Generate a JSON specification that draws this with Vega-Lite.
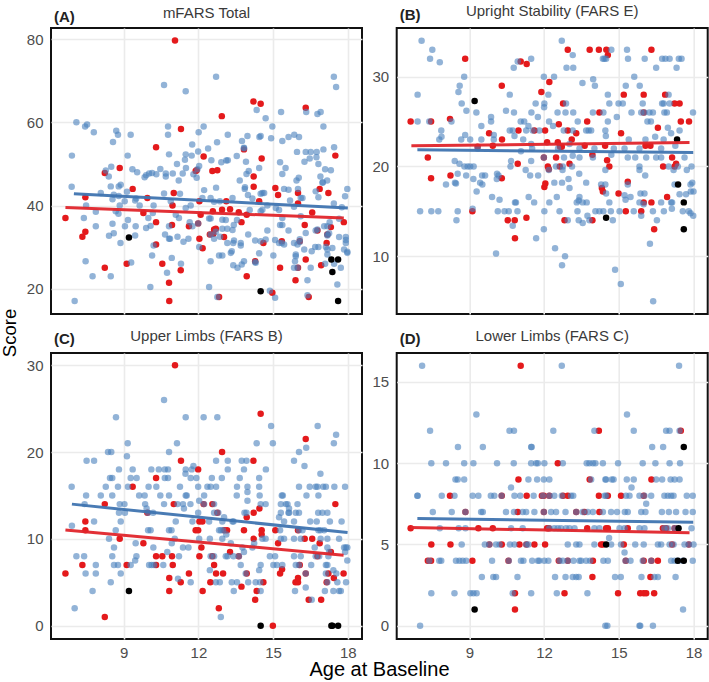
{"$schema":"https://vega.github.io/schema/vega-lite/v6.json","background":"white","autosize":"pad","padding":{"left":-1,"top":3,"right":0,"bottom":0},"bounds":"flush","columns":2,"spacing":{"column":34.7,"row":39},
"config":{"font":"Liberation Sans","view":{"stroke":"#111111","strokeWidth":2},"axis":{"grid":true,"gridColor":"#ebebeb","gridWidth":1.6,"domain":false,"ticks":false,"labelColor":"#4d4d4d","labelFontSize":15,"labelPadding":8,"titleColor":"#000000","titleFontSize":20,"titleFontWeight":"normal"},"title":{"fontSize":15,"fontWeight":"normal","color":"#3a3a3a","anchor":"middle"}},
"datasets":{
"Ar":[{"a":6.66,"s":37},{"a":7.46,"s":42},{"a":7.46,"s":33.7},{"a":7.34,"s":32.5},{"a":8.24,"s":25},{"a":8.24,"s":47.8},{"a":8.84,"s":49},{"a":9.36,"s":44},{"a":9.12,"s":26},{"a":9.79,"s":38.2},{"a":9.95,"s":41.8},{"a":10.3,"s":54},{"a":10.3,"s":36},{"a":10.3,"s":30.6},{"a":10.55,"s":26},{"a":10.82,"s":21.4},{"a":10.83,"s":17},{"a":10.96,"s":40},{"a":10.94,"s":35.3},{"a":11.01,"s":43},{"a":11.06,"s":79.7},{"a":11.3,"s":58.4},{"a":11.29,"s":24.4},{"a":11.62,"s":35},{"a":11.99,"s":35.7},{"a":11.93,"s":48.5},{"a":11.89,"s":48.3},{"a":12.21,"s":51.8},{"a":12.04,"s":41},{"a":12.09,"s":37.8},{"a":12.04,"s":32},{"a":12.17,"s":29.7},{"a":12.46,"s":33},{"a":12.6,"s":33.2},{"a":12.7,"s":34.4},{"a":12.63,"s":34.2},{"a":12.56,"s":48.3},{"a":12.76,"s":48.5},{"a":12.58,"s":38.6},{"a":12.94,"s":61.5},{"a":12.95,"s":39},{"a":13.12,"s":41},{"a":13.27,"s":39.1},{"a":13.03,"s":32.4},{"a":12.83,"s":18},{"a":13.62,"s":38.4},{"a":13.73,"s":36},{"a":13.94,"s":37.8},{"a":13.83,"s":53.5},{"a":13.94,"s":23},{"a":14.21,"s":65},{"a":14.5,"s":64.5},{"a":14.54,"s":51.3},{"a":14.22,"s":47},{"a":14.22,"s":44.5},{"a":14.28,"s":26.6},{"a":14.44,"s":41},{"a":14.61,"s":31},{"a":14.97,"s":19},{"a":15.09,"s":44.2},{"a":15.2,"s":42.5},{"a":15.28,"s":25},{"a":15.35,"s":31.4},{"a":16,"s":43},{"a":16,"s":40.5},{"a":15.9,"s":22},{"a":16,"s":25},{"a":16.07,"s":31.4},{"a":16.27,"s":35.3},{"a":16.31,"s":63.5},{"a":16.31,"s":27},{"a":16.57,"s":38.3},{"a":16.43,"s":18},{"a":16.78,"s":34},{"a":16.87,"s":44},{"a":17.22,"s":43},{"a":16.93,"s":25.6},{"a":17.15,"s":31},{"a":17.18,"s":33},{"a":17.32,"s":34.8},{"a":17.5,"s":52},{"a":17.84,"s":36}],
"Ak":[{"a":9.21,"s":32.3},{"a":14.5,"s":19.4},{"a":17.34,"s":27},{"a":17.61,"s":27},{"a":17.38,"s":24},{"a":17.61,"s":17}],
"Al":[{"a":7,"s":42.8,"g":"b"},{"a":18,"s":39.4,"g":"b"},{"a":6.66,"s":39.5,"g":"r"},{"a":17.84,"s":37,"g":"r"}],
"Ab":[{"a":7.03,"s":17},{"a":6.91,"s":44.5},{"a":6.92,"s":52},{"a":7.1,"s":60},{"a":7.45,"s":59},{"a":7.53,"s":59.5},{"a":7.8,"s":57.6},{"a":8.7,"s":58},{"a":8.77,"s":57},{"a":8.57,"s":55.3},{"a":9.28,"s":57},{"a":9.16,"s":52},{"a":8.5,"s":49.3},{"a":8.28,"s":48.4},{"a":8.4,"s":47},{"a":8.48,"s":44.6},{"a":8.88,"s":45},{"a":8.8,"s":44.6},{"a":8.08,"s":43},{"a":8.6,"s":42.6},{"a":8.8,"s":42.3},{"a":8.55,"s":41.5},{"a":9.13,"s":43.3},{"a":9.04,"s":41},{"a":8.84,"s":40},{"a":7.49,"s":40},{"a":7.88,"s":38.5},{"a":7.4,"s":37},{"a":7.88,"s":35},{"a":7.47,"s":26.6},{"a":7.75,"s":23},{"a":8.48,"s":23},{"a":8.55,"s":35.6},{"a":8.6,"s":33.3},{"a":8.41,"s":32.7},{"a":8.68,"s":38.6},{"a":8.79,"s":38},{"a":9.17,"s":36.5},{"a":9.05,"s":35},{"a":9.48,"s":35},{"a":9.46,"s":32.8},{"a":8.87,"s":31},{"a":9.3,"s":26.3},{"a":9.5,"s":41.7},{"a":9.46,"s":41.2},{"a":9.64,"s":40},{"a":9.35,"s":48.7},{"a":9.54,"s":48},{"a":9.84,"s":46.8},{"a":9.9,"s":47.3},{"a":10.02,"s":47.7},{"a":10.14,"s":47.8},{"a":10.31,"s":47.5},{"a":10.47,"s":48.8},{"a":10.69,"s":47.7},{"a":10.69,"s":47},{"a":10.97,"s":47.7},{"a":11.37,"s":47.7},{"a":11.21,"s":46},{"a":10.62,"s":42.9},{"a":10.2,"s":40},{"a":9.99,"s":37},{"a":10.17,"s":38.2},{"a":9.9,"s":34.6},{"a":10.08,"s":35.1},{"a":10.2,"s":30.4},{"a":10.14,"s":28},{"a":10.07,"s":20.4},{"a":10.66,"s":33},{"a":10.86,"s":32},{"a":10.82,"s":32},{"a":11.16,"s":32.5},{"a":11.4,"s":31.3},{"a":11.6,"s":32},{"a":10.93,"s":27.4},{"a":10.74,"s":23.8},{"a":10.82,"s":35},{"a":11.09,"s":37.8},{"a":11.22,"s":37},{"a":10.89,"s":41},{"a":11.26,"s":42.8},{"a":11.49,"s":39.4},{"a":11.69,"s":40},{"a":11.65,"s":36},{"a":11.76,"s":35},{"a":10.62,"s":69},{"a":11.49,"s":67.5},{"a":12.71,"s":71},{"a":10.78,"s":59},{"a":12.21,"s":59},{"a":10.78,"s":57},{"a":12.01,"s":57.6},{"a":11.75,"s":54.7},{"a":10.82,"s":52.3},{"a":11.99,"s":53},{"a":11.49,"s":52.3},{"a":11.46,"s":51},{"a":11.73,"s":52},{"a":11.14,"s":50},{"a":11.5,"s":49},{"a":11.8,"s":47.5},{"a":11.93,"s":46.7},{"a":12.03,"s":49.5},{"a":11.96,"s":48.7},{"a":12.39,"s":53.7},{"a":12.75,"s":55.2},{"a":13.18,"s":57},{"a":12.52,"s":50.9},{"a":12.92,"s":50.4},{"a":13.12,"s":50.8},{"a":13.18,"s":50.9},{"a":12.71,"s":44.3},{"a":12.23,"s":43.7},{"a":12.16,"s":41.8},{"a":12.49,"s":41.8},{"a":12.63,"s":40.9},{"a":12.86,"s":41},{"a":12.43,"s":36.9},{"a":12.49,"s":36.9},{"a":12.96,"s":36.6},{"a":13.1,"s":36.5},{"a":12.96,"s":34.4},{"a":13.16,"s":34.4},{"a":13.37,"s":34.1},{"a":13.42,"s":35.3},{"a":13.55,"s":36.5},{"a":13.37,"s":41.8},{"a":13.66,"s":46},{"a":13.54,"s":51.9},{"a":13.91,"s":50.5},{"a":13.97,"s":56.7},{"a":13.75,"s":55.5},{"a":13.83,"s":53.9},{"a":14.02,"s":48.3},{"a":13.93,"s":47.6},{"a":13.87,"s":44.4},{"a":13.86,"s":44},{"a":13.99,"s":42.5},{"a":14.17,"s":41.7},{"a":14.06,"s":38.9},{"a":14.5,"s":42.8},{"a":14.57,"s":43},{"a":14.64,"s":43},{"a":14.44,"s":49},{"a":14.5,"s":56.7},{"a":14.45,"s":56.5},{"a":14.34,"s":63},{"a":14.7,"s":61},{"a":14.97,"s":59},{"a":14.92,"s":56.2},{"a":15.32,"s":62.5},{"a":15.37,"s":55.5},{"a":15.62,"s":56.5},{"a":15.85,"s":57},{"a":16.04,"s":56.5},{"a":15.28,"s":50.4},{"a":15.5,"s":49},{"a":15.37,"s":47.6},{"a":15.96,"s":52.9},{"a":16.31,"s":52.9},{"a":16.51,"s":52.9},{"a":16.75,"s":52.9},{"a":17.02,"s":53.5},{"a":17.45,"s":54},{"a":16.26,"s":50.5},{"a":16.47,"s":51.3},{"a":16.74,"s":51.6},{"a":16.82,"s":50},{"a":17.09,"s":48.7},{"a":17.32,"s":48.5},{"a":16.9,"s":47},{"a":17.17,"s":46},{"a":16.98,"s":45.5},{"a":17,"s":45.6},{"a":16.33,"s":62.5},{"a":16.78,"s":62},{"a":16.91,"s":62.5},{"a":17.02,"s":59},{"a":17.44,"s":71},{"a":17.53,"s":68.5},{"a":15.94,"s":46},{"a":16.03,"s":46.7},{"a":16,"s":44},{"a":15.44,"s":44},{"a":15.62,"s":43.8},{"a":15.68,"s":41.2},{"a":15.84,"s":39.7},{"a":16.11,"s":41.8},{"a":16.18,"s":41.8},{"a":16.71,"s":43.4},{"a":16.82,"s":42},{"a":17.44,"s":40.5},{"a":17.76,"s":39.6},{"a":17.89,"s":42.2},{"a":17.98,"s":44},{"a":16.11,"s":37.4},{"a":14.77,"s":40},{"a":15.11,"s":39.4},{"a":15.24,"s":38.9},{"a":14.5,"s":38.6},{"a":14.57,"s":39},{"a":15.37,"s":37},{"a":15.28,"s":35.3},{"a":15.37,"s":35.3},{"a":15.62,"s":34},{"a":14.77,"s":34},{"a":14,"s":33},{"a":16.31,"s":33.4},{"a":16.71,"s":34},{"a":17.05,"s":35},{"a":17.18,"s":35},{"a":17.27,"s":36},{"a":17.18,"s":33},{"a":17.25,"s":33.3},{"a":17.65,"s":32.4},{"a":17.92,"s":32.4},{"a":17.92,"s":31.7},{"a":17.92,"s":31},{"a":17.65,"s":36.8},{"a":17.85,"s":29.4},{"a":17.98,"s":28.9},{"a":17.98,"s":28.6},{"a":17.38,"s":29.8},{"a":17.12,"s":30},{"a":17.18,"s":29.4},{"a":17.18,"s":28.2},{"a":17.45,"s":26},{"a":17.72,"s":25},{"a":17.58,"s":21},{"a":17.09,"s":26},{"a":16.82,"s":30},{"a":16.69,"s":30},{"a":16.55,"s":29},{"a":16.25,"s":29.4},{"a":15.84,"s":31},{"a":15.98,"s":30.6},{"a":16.07,"s":31.9},{"a":15.44,"s":30.6},{"a":15.24,"s":31},{"a":15.08,"s":31.7},{"a":14.7,"s":31.8},{"a":14.5,"s":31.4},{"a":14.28,"s":31.6},{"a":14.44,"s":28.5},{"a":15.01,"s":28},{"a":15.91,"s":28.2},{"a":15.91,"s":27.8},{"a":15.88,"s":26.6},{"a":15.84,"s":25},{"a":15.98,"s":25},{"a":16.51,"s":25},{"a":14.3,"s":26.2},{"a":13.83,"s":26.6},{"a":13.74,"s":25.8},{"a":13.57,"s":25},{"a":13.4,"s":25.6},{"a":13.3,"s":28.6},{"a":13.34,"s":29},{"a":12.83,"s":28},{"a":12.96,"s":28},{"a":12.49,"s":26.6},{"a":13.16,"s":31},{"a":13.4,"s":31},{"a":13.43,"s":31.6},{"a":13.7,"s":31},{"a":13.7,"s":30.4},{"a":12.63,"s":32},{"a":12.87,"s":32.5},{"a":12.49,"s":33},{"a":12.7,"s":33.7},{"a":12.03,"s":30},{"a":14.87,"s":19.5},{"a":15.08,"s":17.8},{"a":16.38,"s":22},{"a":16.38,"s":18.4},{"a":12.43,"s":20.4},{"a":12.76,"s":18},{"a":11.3,"s":26},{"a":14.28,"s":26.4},{"a":11.99,"s":35.7},{"a":13.83,"s":53.8},{"a":15.35,"s":31},{"a":16.07,"s":31.2},{"a":16.78,"s":34.2},{"a":17.18,"s":32.8}],
"Br":[{"a":6.64,"s":25},{"a":7.46,"s":25},{"a":7.33,"s":21},{"a":7.46,"s":18.7},{"a":8.22,"s":25.3},{"a":8.24,"s":19},{"a":8.83,"s":32},{"a":9.12,"s":15},{"a":9.33,"s":22.2},{"a":9.79,"s":23.7},{"a":9.94,"s":22.3},{"a":10.31,"s":23},{"a":10.3,"s":29},{"a":10.3,"s":18.7},{"a":10.54,"s":14},{"a":10.82,"s":14},{"a":10.83,"s":12},{"a":10.94,"s":20.3},{"a":10.97,"s":24},{"a":11.06,"s":31.7},{"a":11.3,"s":31.4},{"a":11.29,"s":14.3},{"a":11.61,"s":24},{"a":12.04,"s":24},{"a":11.89,"s":28.3},{"a":12.21,"s":29.4},{"a":11.99,"s":21},{"a":12.12,"s":22.7},{"a":12.15,"s":20},{"a":12.19,"s":19.7},{"a":12.01,"s":17.7},{"a":12.05,"s":18.1},{"a":12.48,"s":21},{"a":12.55,"s":22.7},{"a":12.64,"s":22.2},{"a":12.71,"s":22.2},{"a":12.59,"s":24.7},{"a":12.63,"s":20},{"a":12.76,"s":27},{"a":12.82,"s":14},{"a":12.95,"s":33},{"a":12.95,"s":24},{"a":13.02,"s":20.3},{"a":13.11,"s":23},{"a":13.29,"s":23.7},{"a":13.63,"s":22.3},{"a":13.73,"s":25},{"a":13.94,"s":21.3},{"a":13.94,"s":14},{"a":13.83,"s":33},{"a":14.2,"s":33},{"a":14.5,"s":33},{"a":14.56,"s":32.4},{"a":14.22,"s":26},{"a":14.32,"s":17.6},{"a":14.36,"s":17.2},{"a":14.45,"s":22.3},{"a":14.62,"s":20},{"a":14.53,"s":20.7},{"a":15.09,"s":23.7},{"a":14.99,"s":17},{"a":15.2,"s":28},{"a":15.36,"s":18.3},{"a":15.28,"s":15},{"a":15.9,"s":15},{"a":16,"s":16},{"a":16.31,"s":16},{"a":16,"s":28},{"a":16,"s":26},{"a":16.07,"s":22.3},{"a":16.27,"s":22.3},{"a":16.31,"s":33},{"a":16.42,"s":13},{"a":16.57,"s":24.3},{"a":16.78,"s":20},{"a":16.86,"s":28},{"a":16.94,"s":16.6},{"a":17.14,"s":21},{"a":17.24,"s":27},{"a":17.44,"s":27},{"a":17.3,"s":20.3},{"a":17.24,"s":20},{"a":17.49,"s":25},{"a":17.82,"s":25}],
"Bk":[{"a":9.21,"s":27.3},{"a":14.49,"s":14.3},{"a":17.34,"s":23},{"a":17.38,"s":18},{"a":17.61,"s":16},{"a":17.61,"s":13}],
"Bl":[{"a":6.91,"s":21.86,"g":"b"},{"a":17.99,"s":21.56,"g":"b"},{"a":6.67,"s":22.3,"g":"r"},{"a":17.84,"s":22.67,"g":"r"}],
"Bb":[{"a":7.08,"s":34},{"a":12.71,"s":34},{"a":7.51,"s":33},{"a":13.15,"s":32.4},{"a":14.7,"s":33},{"a":15.33,"s":33},{"a":7.42,"s":32},{"a":11.48,"s":32},{"a":14.36,"s":32},{"a":14.42,"s":32},{"a":14.49,"s":32},{"a":15.37,"s":32},{"a":16.04,"s":32},{"a":16.74,"s":32},{"a":16.87,"s":32},{"a":17.04,"s":32},{"a":17.41,"s":32},{"a":17.52,"s":32},{"a":7.81,"s":31.6},{"a":10.94,"s":31.7},{"a":10.78,"s":31},{"a":12.9,"s":31},{"a":13.17,"s":31},{"a":16.5,"s":31},{"a":17.32,"s":31},{"a":8.79,"s":30},{"a":11.99,"s":30},{"a":12.4,"s":30},{"a":15.62,"s":30},{"a":13.54,"s":29.3},{"a":13.97,"s":29.7},{"a":14.04,"s":29},{"a":8.61,"s":29},{"a":15.28,"s":29},{"a":15.84,"s":29},{"a":8.56,"s":28.3},{"a":6.92,"s":28},{"a":10.62,"s":28},{"a":12.17,"s":28},{"a":14.56,"s":28},{"a":17,"s":28},{"a":8.69,"s":27},{"a":11.66,"s":27},{"a":12.01,"s":27},{"a":12.88,"s":27},{"a":14.62,"s":27},{"a":14.99,"s":27},{"a":15.16,"s":27},{"a":15.96,"s":27},{"a":16.74,"s":27},{"a":16.8,"s":27},{"a":17.04,"s":27},{"a":12,"s":26.6},{"a":8.88,"s":26.2},{"a":10.47,"s":26.2},{"a":9.28,"s":26},{"a":10.79,"s":26},{"a":11.49,"s":26},{"a":12.54,"s":26},{"a":12.86,"s":26},{"a":13.17,"s":26},{"a":13.96,"s":26},{"a":14.38,"s":26},{"a":15.51,"s":26},{"a":15.9,"s":26},{"a":16.03,"s":26},{"a":16.23,"s":26},{"a":16.37,"s":26},{"a":16.83,"s":26},{"a":16.93,"s":26},{"a":17.98,"s":26},{"a":9.87,"s":25.5},{"a":11.75,"s":25.5},{"a":14.92,"s":25.5},{"a":6.92,"s":25},{"a":7.39,"s":25},{"a":8.28,"s":25},{"a":9.87,"s":25},{"a":11.06,"s":25},{"a":11.2,"s":25},{"a":12.2,"s":25},{"a":13.35,"s":25},{"a":14.56,"s":25},{"a":16.15,"s":25},{"a":16.29,"s":25},{"a":9.48,"s":24.5},{"a":11.37,"s":24.5},{"a":12.36,"s":24.5},{"a":7.87,"s":24},{"a":10.62,"s":24},{"a":10.74,"s":24},{"a":11.28,"s":24},{"a":11.54,"s":24},{"a":11.81,"s":24},{"a":12.79,"s":24},{"a":13.15,"s":24},{"a":13.69,"s":24},{"a":13.79,"s":24},{"a":13.89,"s":24},{"a":14.46,"s":24},{"a":17.44,"s":24},{"a":16.97,"s":24.3},{"a":8.83,"s":23.5},{"a":9.98,"s":23.5},{"a":17.1,"s":23.7},{"a":7.88,"s":23.3},{"a":7.79,"s":23},{"a":8.67,"s":23},{"a":9.03,"s":23},{"a":9.48,"s":23},{"a":9.98,"s":23},{"a":10.81,"s":23.4},{"a":11.16,"s":23},{"a":14.48,"s":23.4},{"a":15.4,"s":23},{"a":16.07,"s":23},{"a":16.46,"s":23.3},{"a":16.8,"s":23},{"a":17.27,"s":22.3},{"a":11.48,"s":22.5},{"a":13.02,"s":22.5},{"a":9.33,"s":22},{"a":11.52,"s":22},{"a":12.56,"s":22},{"a":13.42,"s":22},{"a":14.02,"s":22},{"a":14.8,"s":22},{"a":15.23,"s":22},{"a":15.83,"s":22},{"a":16.7,"s":22},{"a":11.07,"s":21.7},{"a":11.99,"s":21},{"a":13.42,"s":21},{"a":12.8,"s":21},{"a":13.96,"s":21},{"a":15.36,"s":21},{"a":15.66,"s":21},{"a":16.1,"s":21},{"a":16.5,"s":21},{"a":16.7,"s":21},{"a":17.64,"s":21},{"a":14.7,"s":21.3},{"a":8.41,"s":20.6},{"a":10.67,"s":20.6},{"a":11.48,"s":20.6},{"a":13.15,"s":21.2},{"a":8.6,"s":20.3},{"a":8.8,"s":20},{"a":8.93,"s":20},{"a":9.03,"s":20},{"a":9.17,"s":20},{"a":10.65,"s":20},{"a":12.48,"s":20},{"a":12.75,"s":20},{"a":13.12,"s":20},{"a":15.83,"s":20},{"a":17,"s":20},{"a":17.37,"s":20},{"a":17.92,"s":20},{"a":11.26,"s":19.6},{"a":12.74,"s":19.6},{"a":12.19,"s":19.6},{"a":14.46,"s":19.6},{"a":15.83,"s":19.6},{"a":17.2,"s":19.6},{"a":17.73,"s":19.6},{"a":8.53,"s":19.2},{"a":10.11,"s":19.2},{"a":13.41,"s":19.2},{"a":8.87,"s":19},{"a":9.51,"s":19},{"a":9.63,"s":19},{"a":10.17,"s":19},{"a":11.44,"s":19},{"a":11.76,"s":19},{"a":16.06,"s":19},{"a":9.16,"s":18.6},{"a":10.1,"s":18.6},{"a":12.98,"s":18.6},{"a":8.42,"s":18.2},{"a":8.46,"s":18.1},{"a":9.43,"s":18.2},{"a":12.41,"s":18.2},{"a":12.72,"s":18.2},{"a":13.69,"s":18.2},{"a":8.06,"s":18},{"a":9.52,"s":18},{"a":14.29,"s":18},{"a":14.46,"s":18},{"a":15.36,"s":18},{"a":17.24,"s":18},{"a":17.88,"s":18},{"a":17.95,"s":18.2},{"a":9.29,"s":17.2},{"a":13.02,"s":17.6},{"a":14.49,"s":17},{"a":17.89,"s":17.2},{"a":18,"s":17.2},{"a":9.91,"s":16.6},{"a":11.38,"s":16.6},{"a":12.51,"s":16.6},{"a":13.42,"s":16.6},{"a":15.23,"s":16.8},{"a":15.47,"s":16.6},{"a":15.87,"s":17},{"a":16.03,"s":17},{"a":17.44,"s":16.9},{"a":17.7,"s":16.9},{"a":10.21,"s":16.3},{"a":11.6,"s":16},{"a":13.39,"s":16.2},{"a":15.27,"s":16.3},{"a":10.83,"s":16},{"a":10.87,"s":16},{"a":12.21,"s":16},{"a":13.31,"s":16},{"a":13.55,"s":16},{"a":13.71,"s":16},{"a":14.62,"s":16},{"a":15.83,"s":16},{"a":16,"s":15.8},{"a":16.7,"s":16},{"a":17.1,"s":16},{"a":17.14,"s":16},{"a":9.13,"s":15.3},{"a":17.13,"s":15.3},{"a":7.02,"s":15},{"a":7.47,"s":15},{"a":7.75,"s":15},{"a":8.53,"s":15},{"a":10.14,"s":15},{"a":10.41,"s":15},{"a":10.58,"s":15},{"a":10.93,"s":15},{"a":12.01,"s":15},{"a":12.62,"s":15},{"a":13.34,"s":15},{"a":14.06,"s":15},{"a":14.22,"s":15},{"a":14.38,"s":15},{"a":14.68,"s":15},{"a":15.03,"s":15},{"a":15.6,"s":15},{"a":16.37,"s":15},{"a":16.81,"s":15},{"a":17.57,"s":15},{"a":17.81,"s":15},{"a":17.88,"s":14.8},{"a":17.99,"s":14.5},{"a":13.74,"s":14.5},{"a":15.9,"s":14.5},{"a":8.48,"s":14},{"a":12.95,"s":14},{"a":13.39,"s":14},{"a":13.82,"s":14},{"a":14.76,"s":14},{"a":16.53,"s":14},{"a":13.55,"s":13.7},{"a":10.74,"s":13.4},{"a":11.99,"s":13},{"a":11.68,"s":12},{"a":16.25,"s":11.4},{"a":10.07,"s":10.3},{"a":12.44,"s":10.9},{"a":12.84,"s":10},{"a":12.72,"s":9},{"a":14.85,"s":8.5},{"a":15.08,"s":6.9},{"a":16.38,"s":5}],
"Cr":[{"a":6.66,"s":6},{"a":7.34,"s":7},{"a":7.46,"s":12},{"a":7.46,"s":11},{"a":8.24,"s":14},{"a":8.24,"s":1},{"a":8.84,"s":10},{"a":9.12,"s":7},{"a":9.36,"s":16},{"a":9.79,"s":9.5},{"a":9.95,"s":13},{"a":10.3,"s":17},{"a":10.3,"s":8},{"a":10.3,"s":7},{"a":10.55,"s":8},{"a":10.94,"s":8},{"a":10.97,"s":7},{"a":10.83,"s":5.5},{"a":10.83,"s":4},{"a":11.01,"s":14},{"a":11.06,"s":30},{"a":11.3,"s":19},{"a":11.29,"s":5},{"a":11.62,"s":6},{"a":11.89,"s":11},{"a":11.99,"s":11},{"a":11.99,"s":18},{"a":12.04,"s":12},{"a":12.16,"s":12},{"a":12.12,"s":9},{"a":12.04,"s":8},{"a":12.17,"s":4},{"a":12.21,"s":14},{"a":12.56,"s":14},{"a":12.48,"s":5},{"a":12.56,"s":8},{"a":12.63,"s":7},{"a":12.71,"s":6},{"a":12.76,"s":13},{"a":12.82,"s":2},{"a":12.95,"s":20},{"a":12.99,"s":6},{"a":13.04,"s":11},{"a":13.15,"s":11},{"a":13.27,"s":8.5},{"a":13.62,"s":8},{"a":13.73,"s":4.5},{"a":13.83,"s":11},{"a":13.94,"s":12.5},{"a":13.94,"s":6},{"a":14.21,"s":19},{"a":14.22,"s":10},{"a":14.22,"s":13},{"a":14.28,"s":3},{"a":14.34,"s":4},{"a":14.45,"s":13.5},{"a":14.54,"s":11},{"a":14.54,"s":10.5},{"a":14.61,"s":5},{"a":14.5,"s":24.4},{"a":14.99,"s":0},{"a":15.09,"s":11},{"a":15.2,"s":9.5},{"a":15.36,"s":6.5},{"a":15.28,"s":6},{"a":15.9,"s":5},{"a":16,"s":5},{"a":16,"s":5.5},{"a":16,"s":11},{"a":16.07,"s":7},{"a":16.27,"s":10},{"a":16.31,"s":6},{"a":16.31,"s":21.5},{"a":16.43,"s":3},{"a":16.57,"s":10},{"a":16.78,"s":8},{"a":16.87,"s":9.5},{"a":16.93,"s":3},{"a":17.22,"s":6},{"a":17.15,"s":5},{"a":17.32,"s":8.5},{"a":17.44,"s":5.5},{"a":17.5,"s":14},{"a":17.83,"s":6}],
"Ck":[{"a":9.21,"s":4},{"a":14.5,"s":0},{"a":17.34,"s":0},{"a":17.38,"s":0},{"a":17.61,"s":0}],
"Cl":[{"a":6.92,"s":14,"g":"b"},{"a":17.99,"s":10.73,"g":"b"},{"a":6.66,"s":11.03,"g":"r"},{"a":17.83,"s":8.12,"g":"r"}],
"Cb":[{"a":10.62,"s":26},{"a":8.69,"s":24},{"a":11.49,"s":24},{"a":12.21,"s":24},{"a":12.76,"s":24},{"a":14.92,"s":23},{"a":16.79,"s":23},{"a":17.53,"s":22},{"a":9.16,"s":21},{"a":11.14,"s":21},{"a":14.34,"s":21},{"a":14.99,"s":21},{"a":17.44,"s":21},{"a":16.33,"s":20.5},{"a":8.37,"s":20},{"a":8.5,"s":20},{"a":10.82,"s":20},{"a":16.04,"s":20},{"a":9.13,"s":19.5},{"a":7.51,"s":19},{"a":7.81,"s":19},{"a":12.71,"s":19},{"a":13.18,"s":19},{"a":13.74,"s":19},{"a":13.93,"s":19},{"a":15.84,"s":19},{"a":11.8,"s":18.4},{"a":16.26,"s":18.4},{"a":8.81,"s":18},{"a":9.36,"s":18},{"a":10.11,"s":18},{"a":10.41,"s":18},{"a":10.65,"s":18},{"a":10.78,"s":18},{"a":11.49,"s":18},{"a":11.73,"s":18},{"a":13.18,"s":18},{"a":13.83,"s":18},{"a":14.71,"s":18},{"a":11.48,"s":17.5},{"a":16.9,"s":17.5},{"a":8.45,"s":17},{"a":8.54,"s":17},{"a":9.28,"s":17},{"a":9.52,"s":17},{"a":10.65,"s":17},{"a":10.78,"s":17},{"a":11.69,"s":17},{"a":11.92,"s":17},{"a":12.54,"s":17},{"a":12.94,"s":17},{"a":13.66,"s":17},{"a":14.44,"s":17},{"a":6.91,"s":16},{"a":8.28,"s":16},{"a":8.77,"s":16},{"a":9.17,"s":16},{"a":10,"s":16},{"a":10.31,"s":16},{"a":11.26,"s":16},{"a":11.99,"s":16},{"a":12.36,"s":16},{"a":12.49,"s":16},{"a":12.71,"s":16},{"a":13.55,"s":16},{"a":13.97,"s":16},{"a":14.44,"s":16},{"a":16.04,"s":16},{"a":16.47,"s":16},{"a":16.71,"s":16},{"a":16.78,"s":16},{"a":17.01,"s":16},{"a":17.12,"s":16},{"a":17.46,"s":16},{"a":17.89,"s":16},{"a":13.97,"s":15.4},{"a":7.49,"s":15},{"a":8.08,"s":15},{"a":8.54,"s":15},{"a":9.62,"s":15},{"a":9.84,"s":15},{"a":10.47,"s":15},{"a":10.82,"s":15},{"a":11.49,"s":15},{"a":11.53,"s":15},{"a":12.23,"s":15},{"a":13.54,"s":15},{"a":14.46,"s":15},{"a":15.35,"s":15},{"a":15.39,"s":15},{"a":16.34,"s":15},{"a":16.82,"s":15},{"a":12.03,"s":14.4},{"a":13.97,"s":14.4},{"a":7.43,"s":14},{"a":8.84,"s":14},{"a":9.03,"s":14},{"a":9.86,"s":14},{"a":10.62,"s":14},{"a":11.16,"s":14},{"a":11.38,"s":14},{"a":11.68,"s":14},{"a":12.23,"s":14},{"a":12.63,"s":14},{"a":14.5,"s":14},{"a":14.7,"s":14},{"a":15.31,"s":14},{"a":15.51,"s":14},{"a":15.58,"s":14},{"a":15.98,"s":14},{"a":9.92,"s":13.5},{"a":11.42,"s":13.5},{"a":15.64,"s":13.5},{"a":8.81,"s":13},{"a":9.05,"s":13},{"a":9.98,"s":13},{"a":10.18,"s":13},{"a":11.99,"s":13},{"a":12.63,"s":13},{"a":12.8,"s":13},{"a":13.85,"s":13},{"a":13.93,"s":13},{"a":15.31,"s":13},{"a":15.62,"s":13},{"a":15.64,"s":13},{"a":15.91,"s":13},{"a":16.04,"s":13},{"a":16.81,"s":13},{"a":16.98,"s":13},{"a":17.18,"s":13},{"a":13.03,"s":12.5},{"a":15.24,"s":12.5},{"a":6.92,"s":11.5},{"a":7.81,"s":12},{"a":8.88,"s":12},{"a":11.09,"s":12},{"a":11.76,"s":12},{"a":12.43,"s":12},{"a":12.96,"s":12},{"a":13.37,"s":12},{"a":13.41,"s":12},{"a":15.44,"s":12},{"a":15.84,"s":12},{"a":16.49,"s":12},{"a":16.75,"s":12},{"a":17.28,"s":12},{"a":17.75,"s":12},{"a":8.68,"s":11},{"a":9.98,"s":11},{"a":10.08,"s":11},{"a":10.82,"s":11},{"a":10.92,"s":11},{"a":12.83,"s":11},{"a":12.9,"s":11},{"a":12.99,"s":11},{"a":15.28,"s":11},{"a":16.04,"s":11},{"a":16.18,"s":11},{"a":16.82,"s":11},{"a":16.9,"s":11},{"a":17.05,"s":11},{"a":8.41,"s":10},{"a":11.05,"s":10},{"a":12.03,"s":10},{"a":12.46,"s":10},{"a":12.96,"s":10},{"a":13.12,"s":10.5},{"a":14.57,"s":10},{"a":14.7,"s":10},{"a":15.31,"s":10},{"a":15.44,"s":10},{"a":15.84,"s":10},{"a":16.11,"s":10},{"a":16.91,"s":10},{"a":17.18,"s":10},{"a":17.65,"s":10},{"a":9.48,"s":9.5},{"a":10.93,"s":9.5},{"a":13.3,"s":9.5},{"a":14.24,"s":9.5},{"a":8.61,"s":9},{"a":10.19,"s":9},{"a":11.38,"s":9},{"a":11.6,"s":9},{"a":13.77,"s":9},{"a":14.17,"s":9},{"a":16.67,"s":9},{"a":17.18,"s":9},{"a":17.85,"s":9},{"a":17.92,"s":9},{"a":17.98,"s":9},{"a":10.75,"s":8.5},{"a":13.83,"s":8.5},{"a":17.89,"s":8.5},{"a":17.25,"s":8.5},{"a":7.1,"s":8},{"a":7.41,"s":8},{"a":8.54,"s":8},{"a":9.51,"s":8},{"a":11.22,"s":8},{"a":12.49,"s":8},{"a":12.63,"s":8},{"a":13.1,"s":8},{"a":13.17,"s":8},{"a":13.41,"s":8},{"a":13.63,"s":8},{"a":14.87,"s":8},{"a":15.08,"s":8},{"a":15.84,"s":8},{"a":16.11,"s":8},{"a":16.71,"s":8},{"a":16.85,"s":8},{"a":17.22,"s":8},{"a":9.46,"s":7.5},{"a":17.98,"s":7.5},{"a":7.88,"s":7},{"a":8.61,"s":7},{"a":8.77,"s":7},{"a":9.28,"s":7},{"a":10.02,"s":7},{"a":10.12,"s":7},{"a":10.22,"s":7},{"a":10.59,"s":7},{"a":13.7,"s":7},{"a":14.5,"s":7},{"a":15.01,"s":7},{"a":15.15,"s":7},{"a":15.37,"s":7},{"a":15.91,"s":7},{"a":16.04,"s":7},{"a":16.53,"s":7},{"a":17.12,"s":7},{"a":17.18,"s":7},{"a":12.46,"s":6.4},{"a":14.44,"s":6.4},{"a":17.42,"s":6.4},{"a":7.47,"s":6},{"a":7.88,"s":6},{"a":8.88,"s":6},{"a":13.9,"s":6},{"a":16.31,"s":6},{"a":17.12,"s":6},{"a":17.54,"s":6},{"a":8.48,"s":5},{"a":11.69,"s":5},{"a":12.7,"s":5},{"a":12.86,"s":5},{"a":13.34,"s":5},{"a":13.55,"s":5},{"a":14,"s":5},{"a":14.3,"s":5},{"a":14.48,"s":5},{"a":17.18,"s":5},{"a":17.58,"s":5},{"a":17.93,"s":5},{"a":11.18,"s":5.4},{"a":7.75,"s":4},{"a":13.42,"s":4},{"a":14.5,"s":4},{"a":15.88,"s":4},{"a":17.08,"s":4},{"a":17.42,"s":4},{"a":17.65,"s":4},{"a":17.72,"s":4},{"a":16.31,"s":4.4},{"a":16.55,"s":3},{"a":7.03,"s":2},{"a":12.9,"s":1}],
"Dr":[{"a":6.64,"s":6},{"a":7.47,"s":5},{"a":8.24,"s":5},{"a":7.33,"s":4},{"a":7.46,"s":4},{"a":8.22,"s":8},{"a":8.84,"s":7},{"a":9.12,"s":4},{"a":9.36,"s":6},{"a":9.8,"s":5},{"a":9.94,"s":6},{"a":10.3,"s":8},{"a":10.3,"s":5},{"a":10.57,"s":4},{"a":10.83,"s":2},{"a":10.83,"s":1},{"a":10.94,"s":7},{"a":10.97,"s":9},{"a":11.01,"s":5},{"a":11.06,"s":16},{"a":11.3,"s":8},{"a":11.29,"s":5},{"a":11.61,"s":5},{"a":11.91,"s":8},{"a":11.99,"s":8},{"a":11.99,"s":7},{"a":12.04,"s":5},{"a":12.12,"s":6},{"a":12.19,"s":6},{"a":12.21,"s":8},{"a":12.55,"s":10},{"a":12.59,"s":4},{"a":12.82,"s":2},{"a":12.76,"s":8},{"a":12.95,"s":8},{"a":12.95,"s":4},{"a":13.29,"s":7},{"a":13.62,"s":7},{"a":13.73,"s":6},{"a":13.83,"s":9},{"a":13.94,"s":3},{"a":13.96,"s":4},{"a":14.2,"s":12},{"a":14.2,"s":8},{"a":14.22,"s":7},{"a":14.29,"s":5},{"a":14.36,"s":5},{"a":14.56,"s":6},{"a":14.49,"s":6},{"a":14.56,"s":8},{"a":14.97,"s":2},{"a":15.09,"s":8},{"a":15.2,"s":5},{"a":15.28,"s":4},{"a":15.36,"s":6},{"a":15.86,"s":2},{"a":16,"s":2},{"a":16.1,"s":2},{"a":16,"s":8},{"a":16,"s":4},{"a":16.31,"s":9},{"a":16.27,"s":3},{"a":16.31,"s":4},{"a":16.42,"s":2},{"a":16.57,"s":4},{"a":16.77,"s":6},{"a":16.9,"s":6},{"a":17.14,"s":5},{"a":17.24,"s":6},{"a":17.49,"s":12},{"a":17.81,"s":5}],
"Dk":[{"a":9.21,"s":1},{"a":14.49,"s":5},{"a":17.37,"s":4},{"a":17.61,"s":4},{"a":17.4,"s":6},{"a":17.61,"s":11}],
"Dl":[{"a":6.91,"s":6.6,"g":"b"},{"a":17.99,"s":6.37,"g":"b"},{"a":6.64,"s":6.04,"g":"r"},{"a":17.84,"s":5.72,"g":"r"}],
"Db":[{"a":7.1,"s":16},{"a":12.71,"s":16},{"a":17.42,"s":16},{"a":9.28,"s":13},{"a":15.33,"s":13},{"a":7.42,"s":12},{"a":10.61,"s":12},{"a":10.79,"s":12},{"a":12.37,"s":12},{"a":14.02,"s":12},{"a":15.6,"s":12},{"a":16.9,"s":12},{"a":17.04,"s":12},{"a":17.44,"s":12},{"a":8.54,"s":11},{"a":9.54,"s":11},{"a":11.48,"s":11},{"a":11.5,"s":11},{"a":16.34,"s":11},{"a":16.78,"s":11},{"a":7.47,"s":10},{"a":8.06,"s":10},{"a":8.79,"s":10},{"a":9.16,"s":10},{"a":10.11,"s":10},{"a":10.78,"s":10},{"a":11.48,"s":10},{"a":11.68,"s":10},{"a":11.75,"s":10},{"a":12.01,"s":10},{"a":12.75,"s":10},{"a":13.71,"s":10},{"a":13.82,"s":10},{"a":13.96,"s":10},{"a":14.06,"s":10},{"a":14.36,"s":10},{"a":14.97,"s":10},{"a":15.96,"s":10},{"a":16.47,"s":10},{"a":17.04,"s":10},{"a":17.46,"s":10},{"a":8.44,"s":9},{"a":8.53,"s":9},{"a":8.79,"s":9},{"a":11.37,"s":9},{"a":11.72,"s":9},{"a":11.99,"s":9},{"a":12.21,"s":9},{"a":13.89,"s":9},{"a":14.46,"s":9},{"a":14.49,"s":9},{"a":14.72,"s":9},{"a":14.79,"s":9},{"a":15.32,"s":9},{"a":15.6,"s":9},{"a":16.5,"s":9},{"a":16.74,"s":9},{"a":17.08,"s":9},{"a":17.24,"s":9},{"a":17.44,"s":9},{"a":10.67,"s":8.5},{"a":15.51,"s":8.5},{"a":6.91,"s":8},{"a":6.92,"s":8},{"a":7.89,"s":8},{"a":8.4,"s":8},{"a":9.13,"s":8},{"a":9.36,"s":8},{"a":9.86,"s":8},{"a":10,"s":8},{"a":10.29,"s":8},{"a":10.81,"s":8},{"a":11.04,"s":8},{"a":11.58,"s":8},{"a":11.95,"s":8},{"a":12.21,"s":8},{"a":12.41,"s":8},{"a":12.71,"s":8},{"a":13.08,"s":8},{"a":13.17,"s":8},{"a":14.43,"s":8},{"a":14.49,"s":8},{"a":15.29,"s":8},{"a":15.43,"s":8},{"a":15.83,"s":8},{"a":16.03,"s":8},{"a":16.3,"s":8},{"a":16.83,"s":8},{"a":16.97,"s":8},{"a":17.1,"s":8},{"a":17.2,"s":8},{"a":17.73,"s":8},{"a":17.97,"s":8},{"a":16.1,"s":7.5},{"a":7.53,"s":7},{"a":8.29,"s":7},{"a":8.84,"s":7},{"a":9.47,"s":7},{"a":9.54,"s":7},{"a":10.47,"s":7},{"a":10.79,"s":7},{"a":11.14,"s":7},{"a":11.28,"s":7},{"a":11.61,"s":7},{"a":11.99,"s":7},{"a":12.28,"s":7},{"a":12.48,"s":7},{"a":12.86,"s":7},{"a":13.29,"s":7},{"a":13.55,"s":7},{"a":13.75,"s":7},{"a":13.96,"s":7},{"a":14.36,"s":7},{"a":14.69,"s":7},{"a":14.93,"s":7},{"a":15.24,"s":7},{"a":15.36,"s":7},{"a":15.9,"s":7},{"a":16.07,"s":7},{"a":16.73,"s":7},{"a":17.01,"s":7},{"a":17.3,"s":7},{"a":17.68,"s":7},{"a":17.97,"s":7},{"a":7.81,"s":6},{"a":8.57,"s":6},{"a":8.84,"s":6},{"a":10.67,"s":6},{"a":11.14,"s":6},{"a":12.21,"s":6},{"a":12.41,"s":6},{"a":12.55,"s":6},{"a":12.68,"s":6},{"a":12.88,"s":6},{"a":13.02,"s":6},{"a":13.22,"s":6},{"a":14.02,"s":6},{"a":14.22,"s":6},{"a":15.03,"s":6},{"a":15.23,"s":6},{"a":15.83,"s":6},{"a":16.03,"s":6},{"a":16.83,"s":6},{"a":16.97,"s":6},{"a":17.24,"s":6},{"a":17.92,"s":6},{"a":14.61,"s":5.4},{"a":8.69,"s":5},{"a":9.62,"s":5},{"a":9.8,"s":5},{"a":10.07,"s":5},{"a":10.21,"s":5},{"a":10.63,"s":5},{"a":10.81,"s":5},{"a":11.28,"s":5},{"a":11.37,"s":5},{"a":12.95,"s":5},{"a":13.29,"s":5},{"a":13.42,"s":5},{"a":14.02,"s":5},{"a":14.69,"s":5},{"a":15.09,"s":5},{"a":15.66,"s":5},{"a":16,"s":5},{"a":16.57,"s":5},{"a":16.7,"s":5},{"a":17.04,"s":5},{"a":17.2,"s":5},{"a":17.64,"s":5},{"a":17.81,"s":5},{"a":18,"s":5},{"a":15.23,"s":4.5},{"a":7.39,"s":4},{"a":7.79,"s":4},{"a":7.87,"s":4},{"a":8.46,"s":4},{"a":8.6,"s":4},{"a":8.73,"s":4},{"a":8.87,"s":4},{"a":9.91,"s":4},{"a":10.58,"s":4},{"a":11.07,"s":4},{"a":11.17,"s":4},{"a":11.52,"s":4},{"a":11.75,"s":4},{"a":11.81,"s":4},{"a":12.01,"s":4},{"a":12.17,"s":4},{"a":12.62,"s":4},{"a":12.75,"s":4},{"a":12.95,"s":4},{"a":13.18,"s":4},{"a":13.42,"s":4},{"a":13.49,"s":4},{"a":13.69,"s":4},{"a":13.85,"s":4},{"a":14.38,"s":4},{"a":14.56,"s":4},{"a":15.27,"s":4},{"a":15.47,"s":4},{"a":15.96,"s":4},{"a":16.3,"s":4},{"a":17.1,"s":4},{"a":17.24,"s":4},{"a":17.37,"s":4},{"a":17.57,"s":4},{"a":17.97,"s":4},{"a":9.5,"s":3},{"a":9.96,"s":3},{"a":10.07,"s":3},{"a":10.93,"s":3},{"a":12.44,"s":3},{"a":12.86,"s":3},{"a":13.15,"s":3},{"a":13.29,"s":3},{"a":13.39,"s":3},{"a":14.85,"s":3},{"a":15.08,"s":3},{"a":15.91,"s":3},{"a":16.43,"s":3},{"a":16.57,"s":3},{"a":17.28,"s":3},{"a":7.47,"s":2},{"a":8.4,"s":2},{"a":9.04,"s":2},{"a":9.16,"s":2},{"a":9.29,"s":2},{"a":10.74,"s":2},{"a":11.48,"s":2},{"a":12.51,"s":2},{"a":13.74,"s":2},{"a":17.58,"s":1},{"a":7.02,"s":0},{"a":14.46,"s":0},{"a":14.54,"s":0},{"a":15.83,"s":0},{"a":15.86,"s":0},{"a":16.37,"s":0}]
},
"concat":[
{"width":311,"height":286,"title":{"text":"mFARS Total","offset":-11},
"encoding":{"x":{"field":"a","type":"quantitative","title":null,"scale":{"domain":[6.08,18.57],"nice":false},"axis":{"values":[9,12,15,18],"labels":false}},"y":{"field":"s","type":"quantitative","scale":{"domain":[13.9,82.7],"nice":false},"axis":{"values":[20,40,60,80],"title":"Score","titleFontSize":18.5,"titleX":-32,"titleY":304.5,"titleAlign":"center","titleAngle":-90}}},
"layer":[
{"data":{"name":"Ar"},"mark":{"type":"circle","size":42,"color":"#e41a1c","opacity":1}},
{"data":{"name":"Ab"},"mark":{"type":"circle","size":42,"color":"#4a80bc","opacity":0.6}},
{"data":{"name":"Ak"},"mark":{"type":"circle","size":42,"color":"#000000","opacity":1}},
{"data":{"name":"Al"},"mark":{"type":"line","strokeWidth":3,"opacity":0.95},"encoding":{"color":{"field":"g","type":"nominal","legend":null,"scale":{"domain":["b","r"],"range":["#3f74b0","#e0252b"]}}}},
{"data":{"values":[{"a":6.2,"s":82.7,"t":"(A)"}]},"mark":{"type":"text","align":"left","baseline":"bottom","dy":-3,"fontSize":15,"fontWeight":"bold","color":"#222222"},"encoding":{"text":{"field":"t"}}}
]},
{"width":311,"height":286,"title":{"text":"Upright Stability (FARS E)","offset":-11},
"encoding":{"x":{"field":"a","type":"quantitative","title":null,"scale":{"domain":[6.08,18.57],"nice":false},"axis":{"values":[9,12,15,18],"labels":false}},"y":{"field":"s","type":"quantitative","title":null,"scale":{"domain":[3.57,35.42],"nice":false},"axis":{"values":[10,20,30]}}},
"layer":[
{"data":{"name":"Br"},"mark":{"type":"circle","size":42,"color":"#e41a1c","opacity":1}},
{"data":{"name":"Bb"},"mark":{"type":"circle","size":42,"color":"#4a80bc","opacity":0.6}},
{"data":{"name":"Bk"},"mark":{"type":"circle","size":42,"color":"#000000","opacity":1}},
{"data":{"name":"Bl"},"mark":{"type":"line","strokeWidth":3,"opacity":0.95},"encoding":{"color":{"field":"g","type":"nominal","legend":null,"scale":{"domain":["b","r"],"range":["#3f74b0","#e0252b"]}}}},
{"data":{"values":[{"a":6.2,"s":35.42,"t":"(B)"}]},"mark":{"type":"text","align":"left","baseline":"bottom","dy":-5,"fontSize":15,"fontWeight":"bold","color":"#222222"},"encoding":{"text":{"field":"t"}}}
]},
{"width":311,"height":286,"title":{"text":"Upper Limbs (FARS B)","offset":-12},
"encoding":{"x":{"field":"a","type":"quantitative","scale":{"domain":[6.08,18.57],"nice":false},"axis":{"values":[9,12,15,18],"title":"Age at Baseline","titleX":328,"titleY":20,"titleAlign":"center","labelPadding":6}},"y":{"field":"s","type":"quantitative","title":null,"scale":{"domain":[-1.53,31.4],"nice":false},"axis":{"values":[0,10,20,30]}}},
"layer":[
{"data":{"name":"Cr"},"mark":{"type":"circle","size":42,"color":"#e41a1c","opacity":1}},
{"data":{"name":"Cb"},"mark":{"type":"circle","size":42,"color":"#4a80bc","opacity":0.6}},
{"data":{"name":"Ck"},"mark":{"type":"circle","size":42,"color":"#000000","opacity":1}},
{"data":{"name":"Cl"},"mark":{"type":"line","strokeWidth":3,"opacity":0.95},"encoding":{"color":{"field":"g","type":"nominal","legend":null,"scale":{"domain":["b","r"],"range":["#3f74b0","#e0252b"]}}}},
{"data":{"values":[{"a":6.2,"s":31.4,"t":"(C)"}]},"mark":{"type":"text","align":"left","baseline":"bottom","dy":-6,"fontSize":15,"fontWeight":"bold","color":"#222222"},"encoding":{"text":{"field":"t"}}}
]},
{"width":311,"height":286,"title":{"text":"Lower Limbs (FARS C)","offset":-12},
"encoding":{"x":{"field":"a","type":"quantitative","title":null,"scale":{"domain":[6.08,18.57],"nice":false},"axis":{"values":[9,12,15,18],"labelPadding":6}},"y":{"field":"s","type":"quantitative","title":null,"scale":{"domain":[-0.82,16.78],"nice":false},"axis":{"values":[0,5,10,15]}}},
"layer":[
{"data":{"name":"Dr"},"mark":{"type":"circle","size":42,"color":"#e41a1c","opacity":1}},
{"data":{"name":"Db"},"mark":{"type":"circle","size":42,"color":"#4a80bc","opacity":0.6}},
{"data":{"name":"Dk"},"mark":{"type":"circle","size":42,"color":"#000000","opacity":1}},
{"data":{"name":"Dl"},"mark":{"type":"line","strokeWidth":3,"opacity":0.95},"encoding":{"color":{"field":"g","type":"nominal","legend":null,"scale":{"domain":["b","r"],"range":["#3f74b0","#e0252b"]}}}},
{"data":{"values":[{"a":6.2,"s":16.78,"t":"(D)"}]},"mark":{"type":"text","align":"left","baseline":"bottom","dy":-6,"fontSize":15,"fontWeight":"bold","color":"#222222"},"encoding":{"text":{"field":"t"}}}
]}
]}
